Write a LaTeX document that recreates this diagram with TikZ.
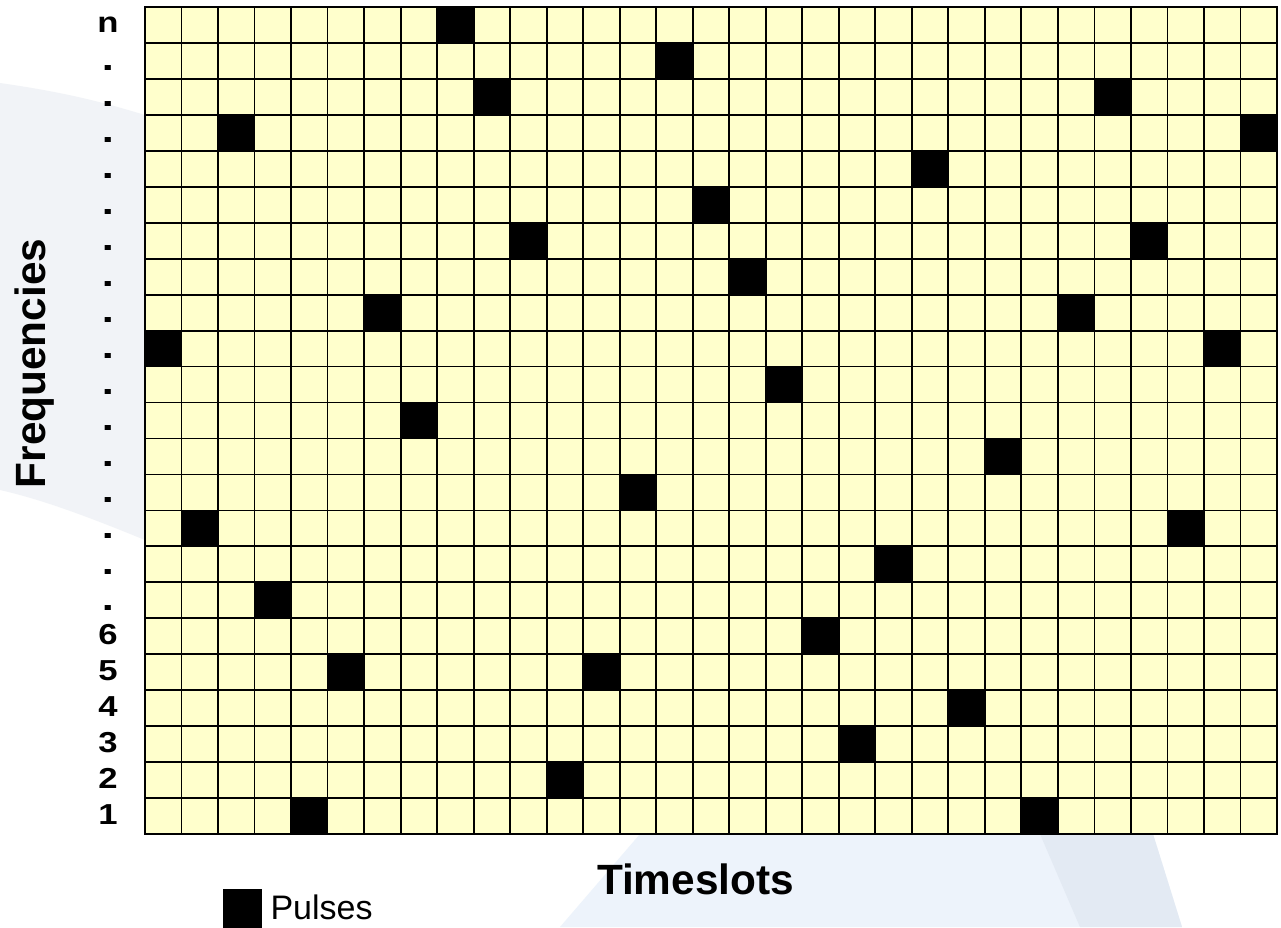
\documentclass[tikz,border=0pt]{standalone}
\usepackage{fontspec}
\setmainfont{Liberation Sans}
\definecolor{cellyellow}{HTML}{FFFFCC}
\definecolor{swooshblue}{HTML}{EDF3FB}
\definecolor{swooshdark}{HTML}{E3EAF3}
\definecolor{swooshgray}{HTML}{F1F3F7}
\begin{document}
\begin{tikzpicture}[x=1cm, y=0.9847cm]
    \tikzstyle{freqlabel} = [font=\bfseries\fontsize{22.5}{24}\selectfont, xscale=1.2, inner sep=0pt, anchor=base]
    \tikzstyle{freqdot} = [font=\bfseries\fontsize{26}{26}\selectfont, xscale=1.3, inner sep=0pt, anchor=base]
    \tikzstyle{axislabel} = [font=\bfseries\fontsize{33}{36}\selectfont, inner sep=0pt, anchor=base]
    \tikzstyle{pulse} = [fill=black]
    \tikzstyle{gridline} = [line width=1.4pt, line cap=rect]

    \useasboundingbox (-3.971,-2.586) rectangle (31.110,23.195);
    \fill[white] (-3.971,-2.586) rectangle (31.110,23.195);
    \fill[swooshgray] (-3.971,20.886) .. controls (-2,20.6) and (-1,20.3) .. (0,19.996) -- (0,8.176) .. controls (-1.5,8.8) and (-2.8,9.3) .. (-3.971,9.567) -- cycle;
    \fill[swooshblue] (11.365,-2.586) -- (13.556,0) -- (27.604,0) -- (28.398,-2.586) -- cycle;
    \fill[swooshdark] (24.510,0) -- (27.604,0) -- (28.398,-2.586) -- (25.605,-2.586) -- cycle;

    \fill[cellyellow] (0,0) rectangle (31,23);
    \foreach \c/\r in {0/13,1/8,2/19,3/6,4/0,5/4,6/14,7/11,8/22,9/20,10/16,11/1,12/4,13/9,14/21,15/17,
                       16/15,17/12,18/5,19/2,20/7,21/18,22/3,23/10,24/0,25/14,26/20,27/16,28/8,29/13,30/19}
        \fill[pulse] (\c,\r) rectangle ++(1,1);
    \foreach \c in {0,...,31} \draw[gridline] (\c,0) -- (\c,23);
    \foreach \r in {0,...,23} \draw[gridline] (0,\r) -- (31,\r);

    \foreach \b in {0,...,5} {
        \pgfmathtruncatemacro\num{\b+1}
        \node [freqlabel] (f\num) at (-1.013,\b+0.278) {\num};
    }
    \foreach \b in {6,...,21}
        \node [freqdot] (d\b) at (-1.013,\b+0.222) {.};
    \node [freqlabel] (fn) at (-1.013,22.278) {n};

    \node [axislabel, rotate=90] (freq) at (-2.738,13.085) {Frequencies};
    \node [axislabel] (time) at (15.075,-1.669) {Timeslots};

    \node [pulse, inner sep=0pt, minimum width=1.068cm, minimum height=1.1cm, anchor=north west] (pulsekey) at (2.136,-1.530) {};
    \node [font=\fontsize{26.5}{28}\selectfont, inner sep=0pt, anchor=base west] (pulsetext) at (3.43,-2.364) {Pulses};
\end{tikzpicture}
\end{document}
